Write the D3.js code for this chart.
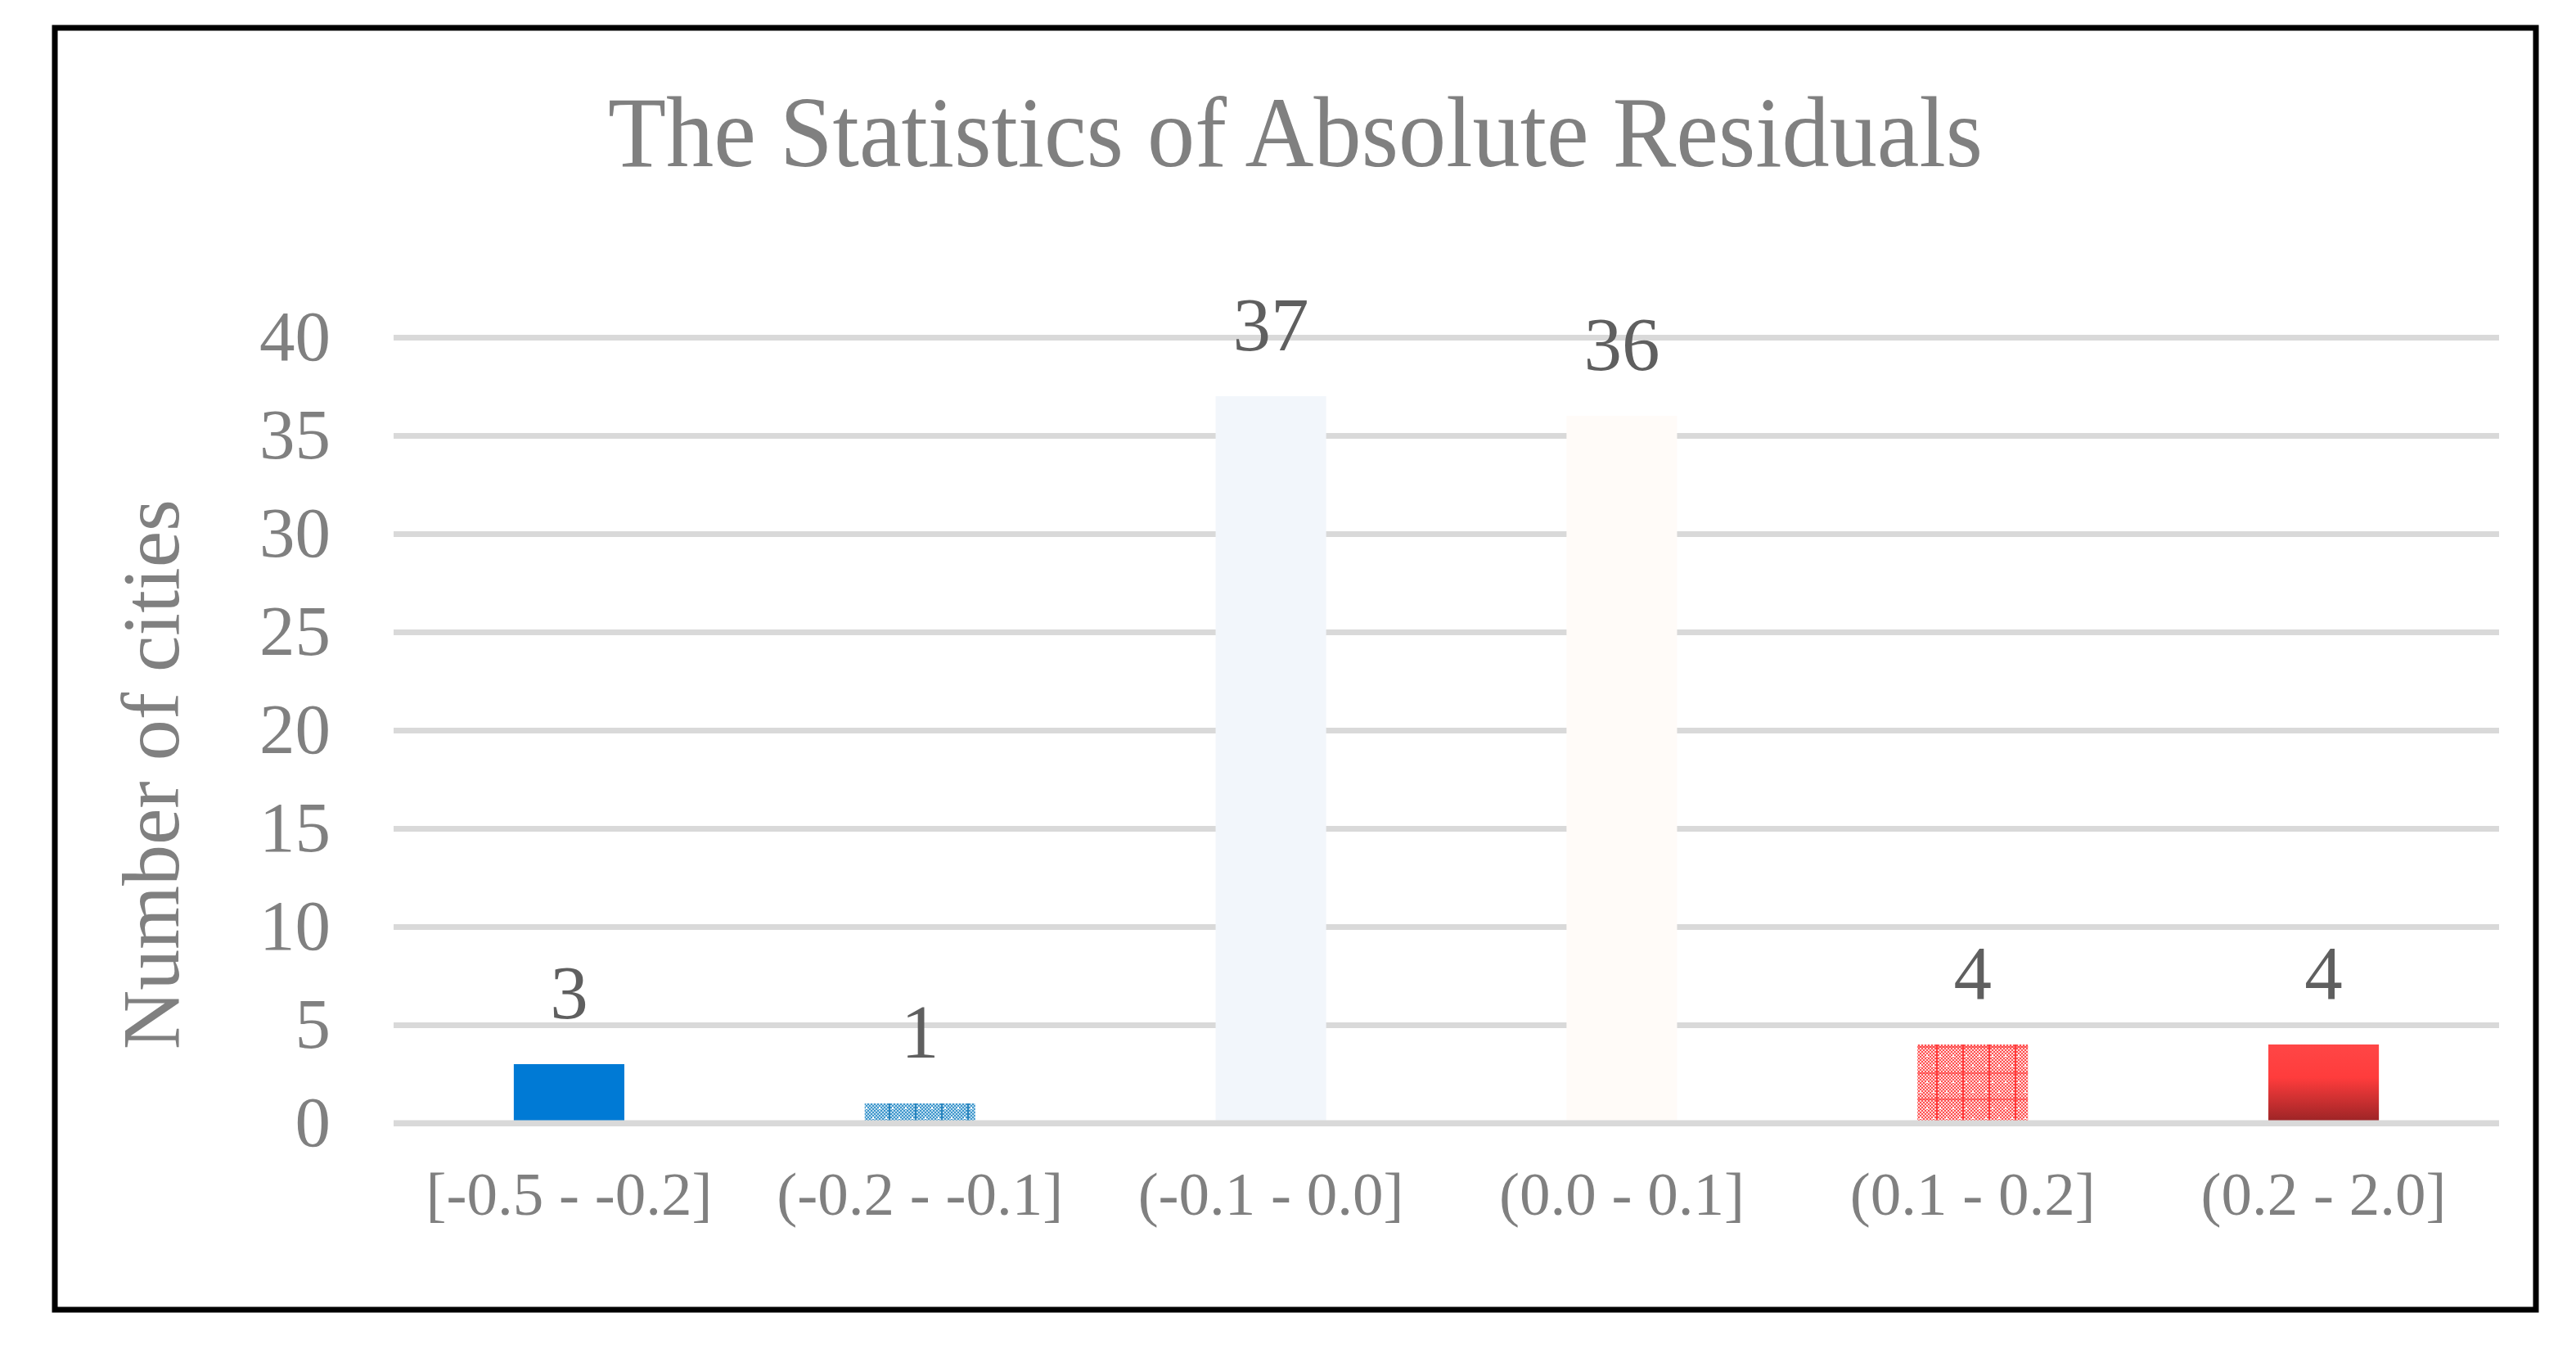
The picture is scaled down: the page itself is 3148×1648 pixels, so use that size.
<!DOCTYPE html>
<html>
<head>
<meta charset="utf-8">
<script src="https://cdn.jsdelivr.net/npm/d3@7"></script>
<style>
  body { margin: 0; background: #ffffff; }
  svg text { font-family: "Liberation Serif", "Times New Roman", serif; }
</style>
</head>
<body>
<div id="chart"></div>
<script>
const categories = ["[-0.5 - -0.2]", "(-0.2 - -0.1]", "(-0.1 - 0.0]", "(0.0 - 0.1]", "(0.1 - 0.2]", "(0.2 - 2.0]"];
const counts = [3, 1, 37, 36, 4, 4];
const yTicks = [0, 5, 10, 15, 20, 25, 30, 35, 40];

const titleText = "The Statistics of Absolute Residuals";
const yTitle = "Number of cities";

const width = 3148;
const height = 1648;
const plot = { left: 481, right: 3054, top: 412, bottom: 1372 };
const gridColor = "#d9d9d9";
const labelGray = "#808080";
const valueGray = "#5f5f5f";

const svg = d3.select("#chart").append("svg")
    .attr("width", width)
    .attr("height", height);

const defs = svg.append("defs");

// small checker used by the two pattern-filled bars
function checker(id, dark, light) {
    const p = defs.append("pattern")
        .attr("id", id)
        .attr("patternUnits", "userSpaceOnUse")
        .attr("width", 4)
        .attr("height", 4);
    p.append("rect").attr("width", 4).attr("height", 4).attr("fill", light);
    p.append("rect").attr("width", 2).attr("height", 2).attr("fill", dark);
    p.append("rect").attr("x", 2).attr("y", 2).attr("width", 2).attr("height", 2).attr("fill", dark);
}

function tile(id, checkerId, line, withRows) {
    const p = defs.append("pattern")
        .attr("id", id)
        .attr("patternUnits", "userSpaceOnUse")
        .attr("width", 32)
        .attr("height", 32);
    p.append("rect").attr("width", 32).attr("height", 32).attr("fill", `url(#${checkerId})`);
    p.append("rect").attr("x", 30).attr("width", 2).attr("height", 32).attr("fill", line);
    if (withRows) {
        p.append("rect").attr("y", 30).attr("width", 32).attr("height", 2).attr("fill", line).attr("opacity", 0.6);
    }
    [[2, 8], [18, 8], [10, 20], [26, 20]].forEach(([x, y]) => {
        p.append("rect").attr("x", x).attr("y", y).attr("width", 2).attr("height", 3).attr("fill", "#ffffff");
    });
}

checker("chkBlue", "#3f96cb", "#b9dbef");
tile("patBlue", "chkBlue", "#2a84bd", false);
checker("chkRed", "#ff5050", "#ffd6d6");
tile("patRed", "chkRed", "#ff3a3a", true);

const grad = defs.append("linearGradient")
    .attr("id", "gradRed")
    .attr("x1", 0).attr("y1", 0).attr("x2", 0).attr("y2", 1);
grad.append("stop").attr("offset", "0%").attr("stop-color", "#ff4646");
grad.append("stop").attr("offset", "42%").attr("stop-color", "#ff3c3c");
grad.append("stop").attr("offset", "100%").attr("stop-color", "#982325");

const fills = ["#007ad5", "url(#patBlue)", "#f2f6fb", "#fffbf8", "url(#patRed)", "url(#gradRed)"];

// outer frame
svg.append("rect")
    .attr("x", 67)
    .attr("y", 34)
    .attr("width", 3032)
    .attr("height", 1566)
    .attr("fill", "none")
    .attr("stroke", "#000000")
    .attr("stroke-width", 7);

const x = d3.scaleBand()
    .domain(categories)
    .range([plot.left, plot.right])
    .paddingInner(0.685)
    .paddingOuter(0.3425);

const y = d3.scaleLinear()
    .domain([0, 40])
    .range([plot.bottom, plot.top]);

// y axis: gridlines + tick labels
const yAxis = svg.append("g")
    .attr("transform", `translate(${plot.left},0)`)
    .call(d3.axisLeft(y)
        .tickValues(yTicks)
        .tickSize(-(plot.right - plot.left))
        .tickPadding(77));

yAxis.select(".domain").remove();
yAxis.selectAll(".tick line")
    .attr("stroke", gridColor)
    .attr("stroke-width", 7);
yAxis.selectAll(".tick text")
    .attr("fill", labelGray)
    .attr("font-size", 87)
    .attr("font-family", "Liberation Serif, Times New Roman, serif");

// bars
svg.append("g")
    .selectAll("rect")
    .data(counts)
    .join("rect")
    .attr("x", (d, i) => x(categories[i]))
    .attr("y", d => y(d))
    .attr("width", x.bandwidth())
    .attr("height", d => y(0) - y(d))
    .attr("fill", (d, i) => fills[i]);

// baseline drawn over the bars
svg.append("line")
    .attr("x1", plot.left)
    .attr("x2", plot.right)
    .attr("y1", y(0))
    .attr("y2", y(0))
    .attr("stroke", gridColor)
    .attr("stroke-width", 7);

// value labels
svg.append("g")
    .selectAll("text")
    .data(counts)
    .join("text")
    .attr("x", (d, i) => x(categories[i]) + x.bandwidth() / 2)
    .attr("y", d => y(d) - 56)
    .attr("text-anchor", "middle")
    .attr("fill", valueGray)
    .attr("font-size", 93)
    .text(d => d);

// x axis labels
const xAxis = svg.append("g")
    .attr("transform", `translate(0,${plot.bottom})`)
    .call(d3.axisBottom(x).tickSize(0).tickPadding(59));

xAxis.select(".domain").remove();
xAxis.selectAll(".tick text")
    .attr("fill", labelGray)
    .attr("font-size", 75)
    .attr("font-family", "Liberation Serif, Times New Roman, serif");

// titles
svg.append("text")
    .attr("x", 1583)
    .attr("y", 203)
    .attr("text-anchor", "middle")
    .attr("fill", labelGray)
    .attr("font-size", 122)
    .attr("textLength", 1680)
    .attr("lengthAdjust", "spacingAndGlyphs")
    .text(titleText);

svg.append("text")
    .attr("transform", "translate(218,946) rotate(-90)")
    .attr("text-anchor", "middle")
    .attr("fill", labelGray)
    .attr("font-size", 100)
    .text(yTitle);
</script>
</body>
</html>
